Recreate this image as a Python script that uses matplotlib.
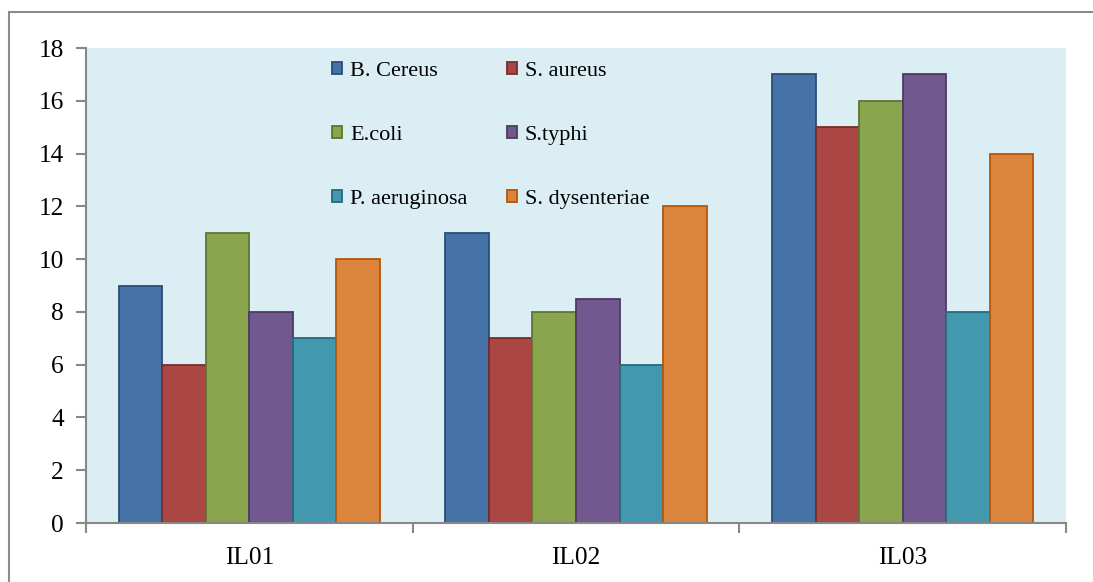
import numpy as np
import matplotlib.pyplot as plt
from matplotlib.patches import Rectangle

plt.rcParams['font.family'] = ['Liberation Serif', 'DejaVu Serif']

# zone of inhibition per isolate and test organism
isolates = ['IL01', 'IL02', 'IL03']
organisms = ['B. Cereus', 'S. aureus', 'E.coli', 'S.typhi', 'P. aeruginosa', 'S. dysenteriae']
b_cereus = [9, 11, 17]
s_aureus = [6, 7, 15]
e_coli = [11, 8, 16]
s_typhi = [8, 8.5, 17]
p_aeruginosa = [7, 6, 8]
s_dysenteriae = [10, 12, 14]
series = [b_cereus, s_aureus, e_coli, s_typhi, p_aeruginosa, s_dysenteriae]

fills = ['#4572A7', '#AA4643', '#89A54E', '#71588F', '#4198AF', '#DB843D']
edges = ['#2C4D75', '#772C2A', '#5F7530', '#4D3B62', '#276A7C', '#B65708']

fig = plt.figure(figsize=(10.93, 5.82), dpi=100)
ax = fig.add_axes([86 / 1093, 1 - 523 / 582, 980 / 1093, 475 / 582])
ax.set_facecolor('#DBEEF3')

# outer chart frame (only left and top edges fall inside the image)
fig.patches.append(Rectangle((9 / 1093, -0.5), 1.5, 1.5 - 12 / 582, transform=fig.transFigure,
                             fill=False, edgecolor='#8C8C8C', linewidth=1.5))

n = len(series)
width = 1 / (n + 1.5)
x = np.arange(len(isolates))
bars = []
for i, vals in enumerate(series):
    b = ax.bar(x + (i - (n - 1) / 2) * width, vals, width, color=fills[i],
               edgecolor=edges[i], linewidth=1.3, label=organisms[i], zorder=2)
    bars.append(b)

ax.set_xlim(-0.5, len(isolates) - 0.5)
ax.set_ylim(0, 18)
ax.set_yticks(range(0, 19, 2))
ax.set_xticks(x)
ax.set_xticklabels(isolates)
ax.set_xticks(np.arange(-0.5, len(isolates), 1), minor=True)
ax.tick_params(axis='x', which='major', length=0, pad=17, labelsize=18.3)
ax.tick_params(axis='x', which='minor', length=7, width=1.5, color='#878787')
ax.tick_params(axis='y', length=7, width=1.5, color='#878787', labelsize=18.3, pad=9)

for side in ['top', 'right']:
    ax.spines[side].set_visible(False)
for side in ['left', 'bottom']:
    ax.spines[side].set_color('#878787')
    ax.spines[side].set_linewidth(1.5)

# legend filled row by row: reorder for matplotlib's column-wise layout
order = [0, 2, 4, 1, 3, 5]
ax.legend([bars[k] for k in order], [organisms[k] for k in order],
          ncol=2, loc='upper left', bbox_to_anchor=(332 / 1093, 1 - 62 / 582),
          bbox_transform=fig.transFigure, frameon=False, fontsize=16,
          handlelength=0.45, handleheight=0.45, handletextpad=0.36,
          columnspacing=1.78, labelspacing=2.02, borderpad=0, borderaxespad=0)

fig.savefig('out.png', dpi=100)
